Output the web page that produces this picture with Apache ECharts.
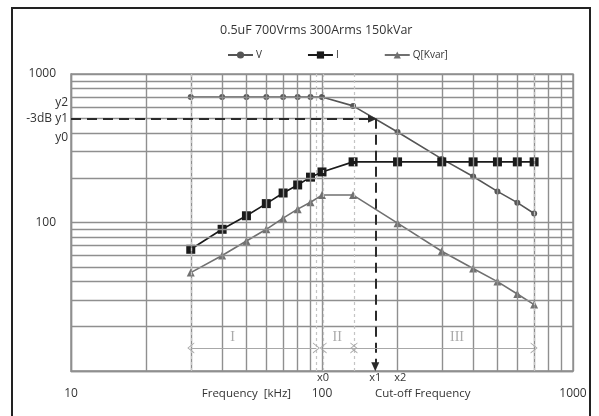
<!DOCTYPE html>
<html>
<head>
<meta charset="utf-8">
<script src="https://cdn.jsdelivr.net/npm/echarts@6/dist/echarts.min.js"></script>
<style>
html,body{margin:0;padding:0;background:#fff;}
#chart{width:599px;height:416px;}
</style>
</head>
<body>
<div id="chart"></div>
<script>
// ---- data ----
const freqs   = [30, 40, 50, 60, 70, 80, 90, 100, 133, 200, 300, 400, 500, 600, 700];
const vValues = [700, 700, 700, 700, 700, 700, 700, 700, 610, 407, 268, 204, 162, 136, 115];
const iValues = [66, 90, 111, 134, 158, 179, 202, 219, 256, 256, 256, 256, 256, 256, 256];
const qValues = [46, 60, 75, 90, 107, 123, 137, 153, 153, 99, 64, 49, 40, 33, 28];

const xMinor = [20,30,40,50,60,70,80,90,200,300,400,500,600,700,800,900];
const yMinor = [20,30,40,50,60,70,80,90,200,300,400,500,600,700,800,900];
const boundaries = [30, 95, 101, 134, 700];
const cutoffLevel = 500;     // -3dB y1
const cutoffFreq = 163;      // x1
const regions = [[30, 95], [101, 134], [134, 700]];
const regionArrowLevel = 14.3;
const regionLabelLevel = 16.9;
const regionLabels = [{text:'I', v:44}, {text:'II', v:115}, {text:'III', v:345}];
const yMarks = [{text:'y2', v:638}, {text:'-3dB y1', v:500}, {text:'y0', v:376}];
const xMarks = [{text:'x0', v:101}, {text:'x1', v:163}, {text:'x2', v:205}];
const xNames = [{text:'Frequency  [kHz]', v:50}, {text:'Cut-off Frequency', v:252}];

const FONT = 'Open Sans';
const GRID = '#8f8f8f';
const chevron = 'path://M0,10 L5,0 L10,10 L9,10 L5,2 L1,10 Z';

const chart = echarts.init(document.getElementById('chart'), null, {renderer:'canvas'});

const option = {
  animation: false,
  backgroundColor: '#fff',
  title: {
    text: '0.5uF 700Vrms 300Arms 150kVar',
    left: 215, top: 19,
    textStyle: {fontFamily: FONT, fontSize: 12.5, fontWeight: 'normal', color: '#333'}
  },
  legend: {
    data: ['V', 'I', 'Q[Kvar]'],
    left: 222, top: 45,
    itemWidth: 25, itemHeight: 9, itemGap: 45,
    textStyle: {fontFamily: FONT, fontSize: 10, color: '#333', padding:[0,0,0,-2]}
  },
  grid: {left: 71, right: 26, top: 74, bottom: 45, show: true, borderColor: GRID, borderWidth: 1.4, backgroundColor:'#fff'},
  xAxis: {
    type: 'log', logBase: 10, min: 10, max: 1000,
    axisLine: {show: true, lineStyle: {color: GRID, width: 1.4}},
    axisTick: {show: false},
    splitLine: {show: true, lineStyle: {color: GRID, width: 1.4}},
    axisLabel: {margin: 17, color: '#333', fontFamily: FONT, fontSize: 12,
      formatter: v => String(Math.round(v))}
  },
  yAxis: {
    type: 'log', logBase: 10, min: 10, max: 1000,
    axisLine: {show: true, lineStyle: {color: GRID, width: 1.4}},
    axisTick: {show: false},
    splitLine: {show: true, lineStyle: {color: GRID, width: 1.4}},
    axisLabel: {margin: 15, color: '#333', fontFamily: FONT, fontSize: 12,
      formatter: v => (Math.round(v) === 10 ? '' : String(Math.round(v)))}
  },
  series: [
    { // minor grid lines
      name: 'grid', type: 'line', data: [[10,10]], symbol: 'none', z: 1, silent: true,
      lineStyle: {opacity: 0},
      markLine: {
        silent: true, symbol: ['none','none'], label: {show: false}, animation: false,
        lineStyle: {color: GRID, type: 'solid', width: 1.4},
        data: xMinor.map(v => ({xAxis: v})).concat(yMinor.map(v => ({yAxis: v})))
      }
    },
    {
      name: 'V', type: 'line', z: 3,
      data: freqs.map((f, i) => [f, vValues[i]]),
      symbol: 'circle', symbolSize: 6,
      lineStyle: {color: '#555', width: 1.6},
      itemStyle: {color: '#555'}
    },
    {
      name: 'I', type: 'line', z: 3,
      data: freqs.map((f, i) => [f, iValues[i]]),
      symbol: 'rect', symbolSize: 9,
      lineStyle: {color: '#1a1a1a', width: 1.6},
      itemStyle: {color: '#1a1a1a'}
    },
    {
      name: 'Q[Kvar]', type: 'line', z: 3,
      data: freqs.map((f, i) => [f, qValues[i]]),
      symbol: 'triangle', symbolSize: 8,
      lineStyle: {color: '#707070', width: 1.6},
      itemStyle: {color: '#707070'}
    },
    { // region boundaries (light dotted)
      name: 'bounds', type: 'line', data: [[10,10]], symbol: 'none', z: 5, silent: true,
      lineStyle: {opacity: 0},
      markLine: {
        silent: true, symbol: ['none','none'], label: {show: false}, animation: false,
        lineStyle: {color: '#c4c4c4', type: [3,3], width: 1.2},
        data: boundaries.map(v => ({xAxis: v}))
      }
    },
    { // -3dB cut-off dashed arrows
      name: 'cutoff', type: 'line', data: [[10,10]], symbol: 'none', z: 6, silent: true,
      lineStyle: {opacity: 0},
      markLine: {
        silent: true, symbol: ['none','triangle'], symbolSize: [8, 9], label: {show: false}, animation: false,
        lineStyle: {color: '#2a2a2a', type: [10,6], width: 2},
        data: [
          [{coord: [10, cutoffLevel]}, {coord: [cutoffFreq * 0.975, cutoffLevel]}],
          [{coord: [cutoffFreq, cutoffLevel]}, {coord: [cutoffFreq, 10.7]}]
        ]
      }
    },
    { // region arrows
      name: 'regions', type: 'line', data: [[10,10]], symbol: 'none', z: 6, silent: true,
      lineStyle: {opacity: 0},
      markLine: {
        silent: true, symbol: [chevron, chevron], symbolSize: [11, 7], label: {show: false}, animation: false,
        lineStyle: {color: '#a8a8a8', type: 'solid', width: 1.1},
        data: regions.map(r => [{coord: [r[0], regionArrowLevel]}, {coord: [r[1], regionArrowLevel]}])
      }
    }
  ]
};
chart.setOption(option);

// ---- text annotations positioned through the axes ----
const g = [];
g.push({type:'rect', shape:{x:12, y:8, width:578, height:420}, style:{fill:'none', stroke:'#222', lineWidth:2}, silent:true, z:0});
yMarks.forEach(m => {
  const p = chart.convertToPixel({gridIndex:0}, [10, m.v]);
  g.push({type:'text', x:p[0]-3, y:p[1], style:{text:m.text, align:'right', verticalAlign:'middle',
    font:'12px "Open Sans"', fill:'#333'}, z:10});
});
const bottomPx = chart.convertToPixel({gridIndex:0}, [10, 10])[1];
xMarks.forEach(m => {
  const p = chart.convertToPixel({gridIndex:0}, [m.v, 10]);
  g.push({type:'text', x:p[0], y:bottomPx+7, style:{text:m.text, align:'center', verticalAlign:'middle',
    font:'11px "Open Sans"', fill:'#333'}, z:10});
});
xNames.forEach(m => {
  const p = chart.convertToPixel({gridIndex:0}, [m.v, 10]);
  g.push({type:'text', x:p[0], y:bottomPx+23, style:{text:m.text, align:'center', verticalAlign:'middle',
    font:'11.5px "Open Sans"', fill:'#333'}, z:10});
});
regionLabels.forEach(m => {
  const p = chart.convertToPixel({gridIndex:0}, [m.v, regionLabelLevel]);
  g.push({type:'text', x:p[0], y:p[1], style:{text:m.text, align:'center', verticalAlign:'middle',
    font:'14px "Liberation Serif"', fill:'#aaa'}, z:10});
});
chart.setOption({graphic: g});
</script>
</body>
</html>
